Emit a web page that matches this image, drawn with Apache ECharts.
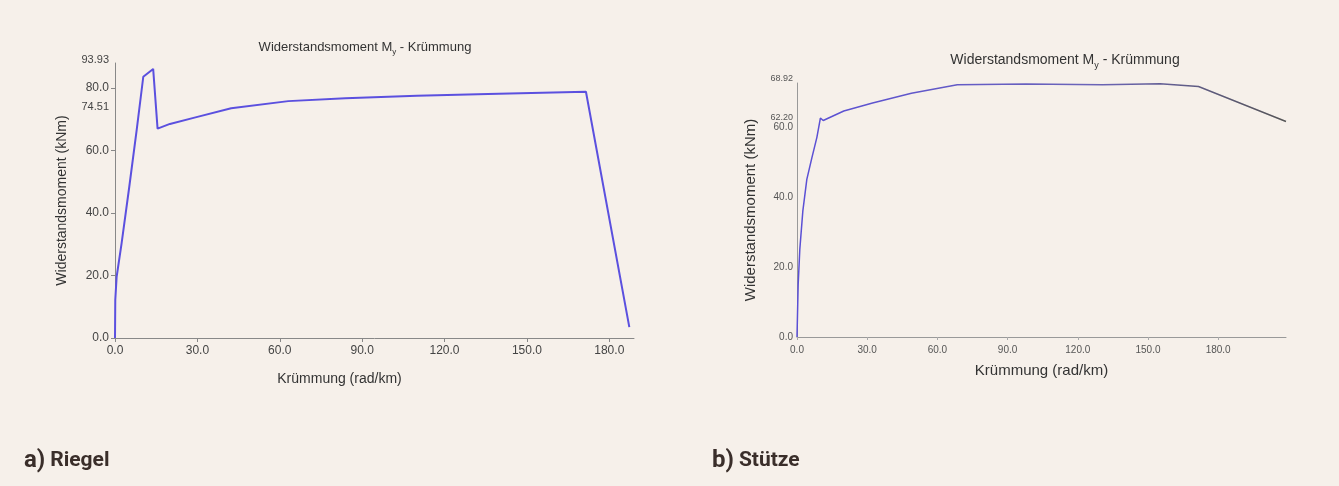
<!DOCTYPE html>
<html>
<head>
<meta charset="utf-8">
<script src="https://cdn.jsdelivr.net/npm/echarts@6/dist/echarts.min.js"></script>
<style>
  html, body { margin: 0; padding: 0; background: #f6f0ea; }
  #chart { width: 1339px; height: 486px; }
</style>
</head>
<body>
<div id="chart"></div>
<script>
  // a) Riegel: curvature (rad/km) and moment (kNm)
  var riegelX = [0, 0.1, 0.6, 2.4, 5.2, 7.9, 10.3, 13.9, 15.5, 20, 29.3, 42.3, 63.1, 83.9, 109.9, 135.8, 171.5, 187.3];
  var riegelM = [0, 12.2, 19.6, 30.3, 48.4, 66.6, 83.6, 86.1, 67.0, 68.5, 70.6, 73.5, 75.8, 76.7, 77.5, 78.1, 78.8, 3.5];

  // b) Stütze
  var stuetzeX = [0, 0.5, 1.2, 2.5, 4.2, 6.3, 8.5, 10.0, 11.2, 20, 32.3, 48.9, 68.5, 97.9, 130.5, 155.2, 171.6, 209];
  var stuetzeM = [0, 15, 25, 36, 45, 51, 57, 62.5, 61.8, 64.5, 66.8, 69.6, 72.0, 72.2, 72.0, 72.3, 71.5, 61.5];

  var xTicks = [0, 30, 60, 90, 120, 150, 180];
  var riegelYTicks = [0, 20, 40, 60, 80];
  var stuetzeYTicks = [0, 20, 40, 60];
  var riegelTopLabel = '93.93', riegelMidLabel = '74.51', riegelEndLabel = '74.45';
  var stuetzeTopLabel = '68.92', stuetzeMidLabel = '62.20';

  function pairs(xs, ys) {
    return xs.map(function (x, i) { return [x, ys[i]]; });
  }

  var riegelData = pairs(riegelX, riegelM);
  riegelData[16] = {
    value: riegelData[16],
    label: { show: true, position: 'right', offset: [4, -9], formatter: riegelEndLabel,
             fontSize: 14, color: '#333', fontFamily: 'Liberation Sans' }
  };

  var font = 'Liberation Sans';
  var capFont = 'Roboto';
  var riegelYMax = 88, stuetzeYMax = 72.5;

  var chart = echarts.init(document.getElementById('chart'));
  chart.setOption({
    backgroundColor: '#f6f0ea',
    animation: false,
    title: [
      { text: 'Widerstandsmoment M{s|y} - Krümmung', left: 360, top: 34, textAlign: 'center',
        textStyle: { fontFamily: font, fontSize: 13, fontWeight: 'normal', color: '#333',
          rich: { s: { fontSize: 8, padding: [9, 0, 0, 0], color: '#333' } } } },
      { text: 'Widerstandsmoment M{s|y} - Krümmung', left: 1060, top: 46, textAlign: 'center',
        textStyle: { fontFamily: font, fontSize: 14, fontWeight: 'normal', color: '#333',
          rich: { s: { fontSize: 9, padding: [10, 0, 0, 0], color: '#333' } } } },
      { text: '{a|a)} {b|Riegel}', left: 19, top: 444,
        textStyle: { rich: {
          a: { fontFamily: capFont, fontSize: 24, fontWeight: 'bold', color: '#3a2e2a' },
          b: { fontFamily: capFont, fontSize: 21, fontWeight: 'bold', color: '#3a2e2a' } } } },
      { text: '{a|b)} {b|Stütze}', left: 707, top: 444,
        textStyle: { rich: {
          a: { fontFamily: capFont, fontSize: 24, fontWeight: 'bold', color: '#3a2e2a' },
          b: { fontFamily: capFont, fontSize: 21, fontWeight: 'bold', color: '#3a2e2a' } } } }
    ],
    grid: [
      { left: 115, right: 705, top: 63, bottom: 148, outerBoundsMode: 'none' },
      { left: 797, right: 53, top: 83, bottom: 149, outerBoundsMode: 'none' }
    ],
    xAxis: [
      { type: 'value', gridIndex: 0, min: 0, max: 189,
        name: 'Krümmung (rad/km)', nameLocation: 'middle', nameGap: 34,
        nameTextStyle: { fontFamily: font, fontSize: 14, color: '#333', padding: [0, 70, 0, 0] },
        axisLine: { lineStyle: { color: '#888' } },
        axisTick: { customValues: xTicks, length: 4, lineStyle: { color: '#888' } },
        axisLabel: { customValues: xTicks, margin: 7, fontFamily: font, fontSize: 12, color: '#444',
          formatter: function (v) { return v.toFixed(1); } },
        splitLine: { show: false } },
      { type: 'value', gridIndex: 1, min: 0, max: 209,
        name: 'Krümmung (rad/km)', nameLocation: 'middle', nameGap: 26,
        nameTextStyle: { fontFamily: font, fontSize: 15, color: '#333' },
        axisLine: { lineStyle: { color: '#999' } },
        axisTick: { customValues: xTicks, length: 3, lineStyle: { color: '#aaa' } },
        axisLabel: { customValues: xTicks, margin: 8, fontFamily: font, fontSize: 10, color: '#555',
          formatter: function (v) { return v.toFixed(1); } },
        splitLine: { show: false } }
    ],
    yAxis: [
      { type: 'value', gridIndex: 0, min: 0, max: riegelYMax,
        name: 'Widerstandsmoment (kNm)', nameLocation: 'middle', nameGap: 46,
        nameTextStyle: { fontFamily: font, fontSize: 14, color: '#333' },
        axisLine: { lineStyle: { color: '#888' } },
        axisTick: { customValues: riegelYTicks, length: 4, lineStyle: { color: '#888' } },
        axisLabel: { customValues: riegelYTicks.concat([74.51, riegelYMax]), margin: 6,
          fontFamily: font, fontSize: 12, color: '#444',
          rich: { t: { fontFamily: font, fontSize: 11, color: '#444', padding: [0, 0, 6, 0] },
                  m: { fontFamily: font, fontSize: 11, color: '#444', padding: [4, 0, 0, 0] } },
          formatter: function (v) {
            if (v === riegelYMax) return '{t|' + riegelTopLabel + '}';
            if (v === 74.51) return '{m|' + riegelMidLabel + '}';
            return v.toFixed(1);
          } },
        splitLine: { show: false } },
      { type: 'value', gridIndex: 1, min: 0, max: stuetzeYMax,
        name: 'Widerstandsmoment (kNm)', nameLocation: 'middle', nameGap: 39,
        nameTextStyle: { fontFamily: font, fontSize: 15, color: '#333' },
        axisLine: { lineStyle: { color: '#999' } },
        axisTick: { show: false },
        axisLabel: { customValues: stuetzeYTicks.concat([62.2, stuetzeYMax]), margin: 4,
          fontFamily: font, fontSize: 10, color: '#555',
          rich: { t: { fontFamily: font, fontSize: 9, color: '#555', padding: [0, 0, 8, 0] },
                  m: { fontFamily: font, fontSize: 9, color: '#555', padding: [0, 0, 4, 0] } },
          formatter: function (v) {
            if (v === stuetzeYMax) return '{t|' + stuetzeTopLabel + '}';
            if (v === 62.2) return '{m|' + stuetzeMidLabel + '}';
            return v.toFixed(1);
          } },
        splitLine: { show: false } }
    ],
    series: [
      { type: 'line', xAxisIndex: 0, yAxisIndex: 0, data: riegelData,
        showSymbol: false, symbol: 'none', smooth: false,
        lineStyle: { color: '#5b50df', width: 2 } },
      { type: 'line', xAxisIndex: 1, yAxisIndex: 1, data: pairs(stuetzeX, stuetzeM),
        showSymbol: false, symbol: 'none', smooth: false,
        lineStyle: { width: 1.5, color: new echarts.graphic.LinearGradient(0, 0, 1, 0, [
          { offset: 0, color: '#5a4fd6' }, { offset: 0.6, color: '#6b64b8' }, { offset: 1, color: '#555' }
        ]) } }
    ]
  });
</script>
</body>
</html>
